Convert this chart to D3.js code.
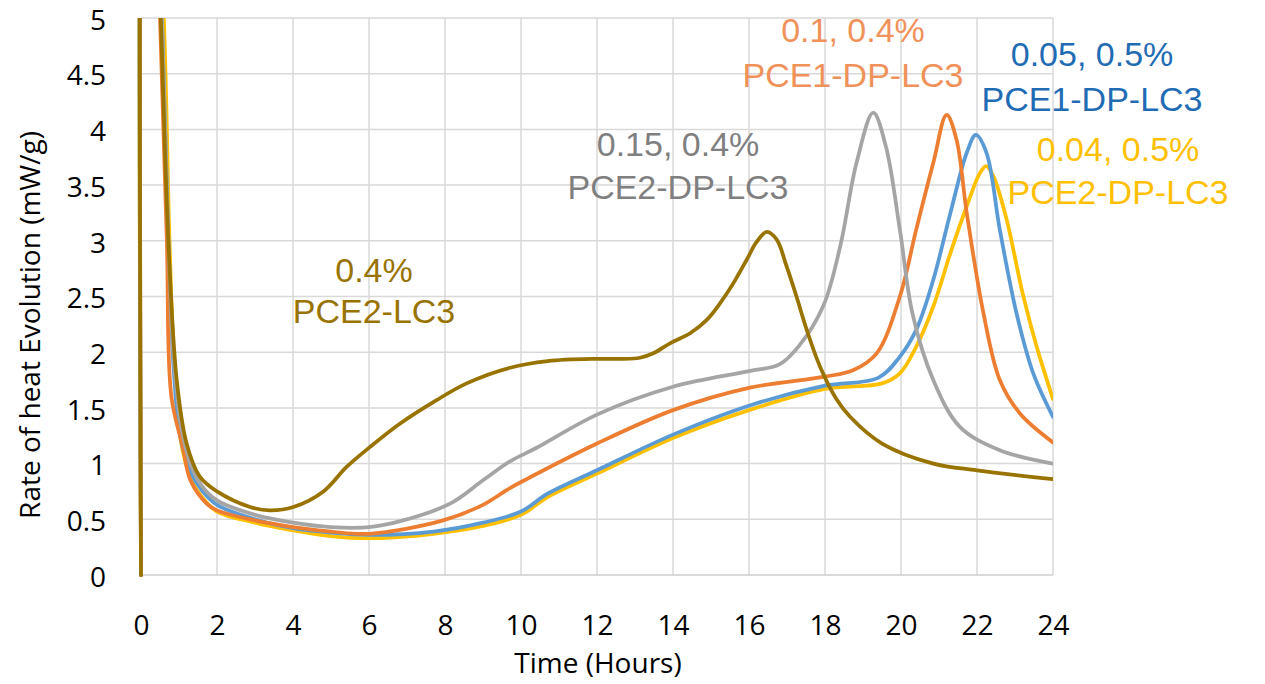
<!DOCTYPE html>
<html>
<head>
<meta charset="utf-8">
<script src="https://cdn.jsdelivr.net/npm/d3@7/dist/d3.min.js"></script>
<style>
  html, body { margin: 0; padding: 0; background: #ffffff; }
  svg { display: block; }
</style>
</head>
<body>
<svg id="chart" width="1265" height="684"></svg>
<script>
// Calorimetry curves: rate of heat evolution (mW/g) against time (hours)

const xTicks = [0, 2, 4, 6, 8, 10, 12, 14, 16, 18, 20, 22, 24];
const yTicks = [0, 0.5, 1, 1.5, 2, 2.5, 3, 3.5, 4, 4.5, 5];
const yTickLabels = ["0", "0.5", "1", "1.5", "2", "2.5", "3", "3.5", "4", "4.5", "5"];

// 0.04, 0.5% PCE2-DP-LC3
const yellowTime = [0, 0.05, 0.6, 0.75, 0.88, 1.05, 1.3, 1.6, 2.0, 3.0, 4.0, 5.0, 6.0, 7.7, 9.0, 10.0, 10.7, 12, 14, 16, 18, 19.5, 19.97, 20.4, 20.85, 21.3, 21.73, 22.08, 22.24, 22.43, 22.78, 23.2, 23.57, 24];
const yellowRate = [0, 9, 5.0, 3.0, 1.85, 1.2, 0.88, 0.70, 0.57, 0.47, 0.40, 0.35, 0.33, 0.37, 0.44, 0.54, 0.70, 0.91, 1.23, 1.48, 1.67, 1.72, 1.81, 2.05, 2.41, 2.89, 3.31, 3.61, 3.67, 3.58, 3.19, 2.53, 2.05, 1.58];

// 0.05, 0.5% PCE1-DP-LC3
const blueTime = [0, 0.05, 0.55, 0.72, 0.85, 1.03, 1.3, 1.6, 2.0, 3.0, 4.0, 5.0, 6.0, 7.7, 9.0, 10.0, 10.7, 12, 14, 16, 18, 19.4, 19.97, 20.4, 20.85, 21.3, 21.73, 21.97, 22.25, 22.6, 23.04, 23.48, 24];
const blueRate = [0, 9, 5.0, 3.0, 1.9, 1.25, 0.93, 0.76, 0.63, 0.5, 0.42, 0.38, 0.36, 0.39, 0.47, 0.57, 0.73, 0.94, 1.26, 1.52, 1.70, 1.77, 1.96, 2.2, 2.65, 3.25, 3.79, 3.95, 3.79, 3.1, 2.35, 1.81, 1.42];

// 0.1, 0.4% PCE1-DP-LC3
const orangeTime = [0, 0.05, 0.5, 0.68, 0.8, 1.1, 1.3, 1.73, 2.0, 3.0, 4.0, 5.0, 6.0, 7.95, 9.0, 9.71, 10.2, 12.0, 14.0, 16.0, 18.0, 18.75, 19.36, 19.97, 20.4, 20.85, 21.2, 21.46, 21.73, 22.17, 22.6, 23.13, 24];
const orangeRate = [0, 9, 5.0, 3.0, 1.6, 1.15, 0.85, 0.64, 0.58, 0.49, 0.43, 0.39, 0.37, 0.49, 0.63, 0.78, 0.87, 1.18, 1.48, 1.68, 1.78, 1.84, 1.99, 2.50, 3.10, 3.70, 4.13, 3.91, 3.25, 2.35, 1.75, 1.45, 1.19];

// 0.15, 0.4% PCE2-DP-LC3
const grayTime = [0, 0.05, 0.55, 0.72, 0.85, 1.05, 1.3, 1.6, 2.0, 3.0, 4.0, 5.0, 6.0, 6.9, 8.13, 9.0, 9.71, 10.4, 12.0, 14.0, 16.0, 16.8, 17.3, 17.96, 18.4, 18.83, 19.27, 19.6, 19.97, 20.3, 20.85, 21.55, 22.6, 24];
const grayRate = [0, 9, 5.0, 3.0, 2.0, 1.35, 1.0, 0.8, 0.67, 0.54, 0.47, 0.43, 0.43, 0.49, 0.64, 0.85, 1.02, 1.14, 1.44, 1.69, 1.83, 1.89, 2.05, 2.42, 2.95, 3.70, 4.15, 3.85, 3.10, 2.35, 1.75, 1.33, 1.12, 1.0];

// 0.4% PCE2-LC3
const brownTime = [0, 0.05, 0.5, 0.72, 0.94, 1.2, 1.55, 2.0, 2.87, 3.39, 4.01, 4.8, 5.41, 6.03, 6.82, 7.78, 8.57, 9.71, 10.7, 12.0, 12.6, 13.13, 13.48, 13.92, 14.45, 14.89, 15.24, 15.59, 15.94, 16.2, 16.47, 16.73, 16.99, 17.25, 17.52, 17.87, 18.3, 18.66, 19.5, 20.85, 22.0, 24];
const brownRate = [0, 9, 5.2, 3.0, 1.75, 1.18, 0.88, 0.75, 0.61, 0.58, 0.61, 0.75, 0.97, 1.15, 1.36, 1.57, 1.72, 1.86, 1.92, 1.94, 1.94, 1.95, 1.99, 2.08, 2.17, 2.29, 2.44, 2.62, 2.83, 2.99, 3.08, 3.01, 2.77, 2.50, 2.20, 1.87, 1.58, 1.42, 1.18, 1.0, 0.94, 0.86];

const series = [
  { name: "yellow", time: yellowTime, rate: yellowRate, color: "#ffc000" },
  { name: "blue", time: blueTime, rate: blueRate, color: "#5b9bd5" },
  { name: "orange", time: orangeTime, rate: orangeRate, color: "#ed7d31" },
  { name: "gray", time: grayTime, rate: grayRate, color: "#a5a5a5" },
  { name: "brown", time: brownTime, rate: brownRate, color: "#997300" }
];

// Two-line curve annotations
const labelLines = [
  { lines: ["0.4%", "PCE2-LC3"], x: 374, y: [282, 323], color: "#997300" },
  { lines: ["0.15, 0.4%", "PCE2-DP-LC3"], x: 678, y: [156, 199], color: "#7f7f7f" },
  { lines: ["0.1, 0.4%", "PCE1-DP-LC3"], x: 853, y: [42, 87], color: "#f0915a" },
  { lines: ["0.05, 0.5%", "PCE1-DP-LC3"], x: 1092, y: [66, 111], color: "#1f6cb4" },
  { lines: ["0.04, 0.5%", "PCE2-DP-LC3"], x: 1118, y: [161, 204], color: "#ffc000" }
];

const svg = d3.select("#chart");
const plot = { left: 141, right: 1053, top: 18, bottom: 575 };

const x = d3.scaleLinear().domain([0, 24]).range([plot.left, plot.right]);
const y = d3.scaleLinear().domain([0, 5]).range([plot.bottom, plot.top]);

// Gridlines
const grid = svg.append("g").attr("stroke", "#d9d9d9").attr("stroke-width", 1.5);
grid.selectAll("line.h").data(yTicks.slice(1)).join("line")
  .attr("x1", plot.left).attr("x2", plot.right)
  .attr("y1", d => y(d)).attr("y2", d => y(d));
grid.selectAll("line.v").data(xTicks).join("line")
  .attr("x1", d => x(d)).attr("x2", d => x(d))
  .attr("y1", plot.top).attr("y2", plot.bottom);

// Bottom axis line
svg.append("line")
  .attr("x1", plot.left).attr("x2", plot.right)
  .attr("y1", y(0)).attr("y2", y(0))
  .attr("stroke", "#cfcfcf").attr("stroke-width", 1.5);

// Axes (labels only)
const xAxis = d3.axisBottom(x).tickValues(xTicks).tickSize(0).tickPadding(40).tickFormat(d3.format("d"));
const gx = svg.append("g").attr("transform", `translate(0,${plot.bottom})`).call(xAxis);
gx.select(".domain").remove();
gx.selectAll("text").attr("font-family", "'Open Sans', sans-serif").attr("font-size", 28).attr("fill", "#000");

const yAxis = d3.axisLeft(y).tickValues(yTicks).tickSize(0).tickPadding(35).tickFormat((d, i) => yTickLabels[i]);
const gy = svg.append("g").attr("transform", `translate(${plot.left},0)`).call(yAxis);
gy.select(".domain").remove();
gy.selectAll("text").attr("font-family", "'Open Sans', sans-serif").attr("font-size", 28).attr("fill", "#000").attr("dy", "0.4em");

// Axis titles
svg.append("text")
  .attr("x", 598).attr("y", 673)
  .attr("text-anchor", "middle")
  .attr("font-family", "'Open Sans', sans-serif").attr("font-size", 28).attr("fill", "#000")
  .text("Time (Hours)");

svg.append("text")
  .attr("transform", "translate(40,325) rotate(-90)")
  .attr("text-anchor", "middle")
  .attr("font-family", "'Open Sans', sans-serif").attr("font-size", 28).attr("fill", "#000")
  .text("Rate of heat Evolution (mW/g)");

// Curves, clipped to the plot area
svg.append("clipPath").attr("id", "plotClip")
  .append("rect")
  .attr("x", plot.left - 4).attr("y", plot.top)
  .attr("width", plot.right - plot.left + 4).attr("height", plot.bottom - plot.top + 3);

const line = d3.line()
  .x(d => x(d[0]))
  .y(d => y(d[1]))
  .curve(d3.curveCatmullRom.alpha(0.5));

svg.append("g").attr("clip-path", "url(#plotClip)")
  .selectAll("path").data(series).join("path")
  .attr("d", s => line(s.time.map((t, i) => [t, s.rate[i]])))
  .attr("fill", "none")
  .attr("stroke", s => s.color)
  .attr("stroke-width", 3.75)
  .attr("stroke-linejoin", "round")
  .attr("stroke-linecap", "round");

// Annotations
const ann = svg.append("g")
  .attr("font-family", "'Liberation Sans', Arial, sans-serif")
  .attr("font-size", 34)
  .attr("text-anchor", "middle");
labelLines.forEach(l => {
  l.lines.forEach((txt, i) => {
    ann.append("text")
      .attr("x", l.x).attr("y", l.y[i])
      .attr("fill", l.color)
      .text(txt);
  });
});
</script>
</body>
</html>
